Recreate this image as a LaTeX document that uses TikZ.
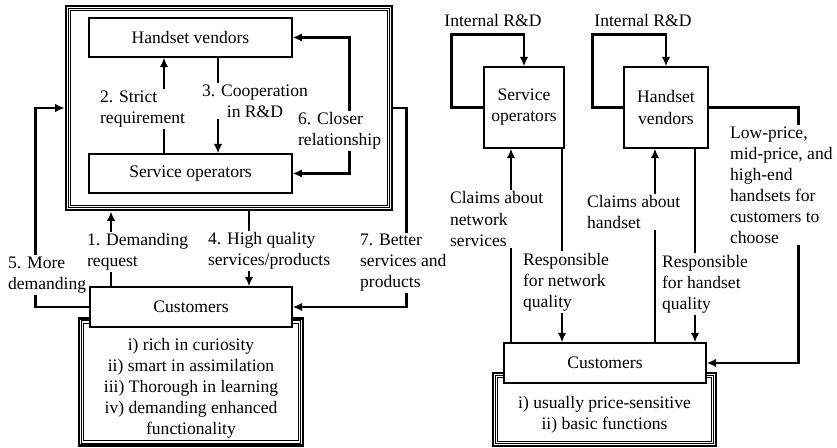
\documentclass[tikz,border=0pt]{standalone}
\usepackage{fontspec}
\setmainfont{Liberation Serif}
\usetikzlibrary{arrows.meta}

\begin{document}
\begin{tikzpicture}[
			x=0.02cm, y=-0.02cm,
			>={Latex[length=5.4pt,width=4.8pt]},
			box/.style = {draw, line width=0.7pt, fill=white, inner sep=0pt, align=center},
			frame/.style = {draw, line width=1.6pt, inner sep=0pt, align=center},
			inner/.style = {draw, line width=0.55pt, double, double distance=0.9pt},
			flow/.style = {line width=1.4pt},
			lbl/.style = {fill=white, inner sep=1pt, align=left, anchor=west}
		]
		\useasboundingbox (0,0) rectangle (837,448);
		% Left: the industry and its customers.
		\node[frame, minimum width=6.52cm, minimum height=4.08cm] (lfr) at (229,108) {};
		\draw[inner] ([shift={(5,5)}]lfr.north west) rectangle ([shift={(-5,-5)}]lfr.south east);
		\node[box, minimum width=4.06cm, minimum height=0.78cm] (hv) at (190.5,37.5) {Handset vendors};
		\node[box, minimum width=4.06cm, minimum height=0.78cm] (so) at (190.5,173.5) {Service operators};
		\node[frame, minimum width=4.48cm, minimum height=2.54cm] (cd) at (191,382) {\\[2pt]i) rich in curiosity\\ii) smart in assimilation\\iii) Thorough in learning\\iv) demanding enhanced\\functionality};
		\draw[inner] ([shift={(5,5)}]cd.north west) rectangle ([shift={(-5,-5)}]cd.south east);
		\node[box, minimum width=4.04cm, minimum height=0.8cm] (cust) at (191,307) {Customers};
		% Right: the industry and its customers.
		\node[box, minimum width=1.6cm, minimum height=1.62cm] (rso) at (524,107.5) {Service\\operators};
		\node[box, minimum width=1.68cm, minimum height=1.62cm] (rhv) at (666,107.5) {Handset\\vendors};
		\node[frame, minimum width=4.46cm, minimum height=1.46cm] (rcd) at (604.5,409.5) {\\[1pt]i) usually price-sensitive\\ii) basic functions};
		\draw[inner] ([shift={(5,5)}]rcd.north west) rectangle ([shift={(-5,-5)}]rcd.south east);
		\node[box, minimum width=4.04cm, minimum height=0.8cm] (rcust) at (605,363) {Customers};
		\node (ird1) at (493,20) {Internal R\&D};
		\node (ird2) at (643,20) {Internal R\&D};
		% Draw the left flows.
		\draw[flow, ->] (so.north -| 164,0) -- (hv.south -| 164,0);
		\draw[flow, ->] (hv.south -| 218,0) -- (so.north -| 218,0);
		\draw[flow, <->] (hv.east) -- ++(57,0) |- (so.east);
		\draw[flow, ->] (cust.north -| 111,0) -- (lfr.south -| 111,0);
		\draw[flow, ->] (lfr.south -| 249,0) -- (cust.north -| 249,0);
		\draw[flow, ->] (cust.west) -- ++(-54,0) |- (lfr.west);
		\draw[flow, ->] (lfr.east) -- ++(13,0) |- (cust.east);
		% Draw the right flows.
		\draw[flow, ->] (rso.west) -- ++(-32,0) -- ++(0,-73) -| (rso.north);
		\draw[flow, ->] (rhv.west) -- ++(-31,0) -- ++(0,-73) -| (rhv.north);
		\draw[flow, ->] (rhv.east) -- ++(90,0) |- (rcust.east);
		\draw[flow, ->] (rcust.north -| 511,0) -- (rso.south -| 511,0);
		\draw[flow, ->] (rso.south -| 562,0) -- (rcust.north -| 562,0);
		\draw[flow, ->] (rcust.north -| 655,0) -- (rhv.south -| 655,0);
		\draw[flow, ->] (rhv.south -| 695,0) -- (rcust.north -| 695,0);
		% Labels on the flows.
		\node[lbl] (l2) at (98,109) {2. Strict\\requirement};
		\node[lbl, anchor=center, align=center] (l3) at (255,101) {3. Cooperation\\in R\&D};
		\node[lbl] (l6) at (296,131) {6. Closer\\relationship};
		\node[lbl] (l1) at (85,252) {1. Demanding\\request};
		\node[lbl] (l4) at (206,251) {4. High quality\\services/products};
		\node[lbl] (l5) at (6,275) {5. More\\demanding};
		\node[lbl] (l7) at (358,263) {7. Better\\services and\\products};
		\node[lbl] (lcn) at (448,219) {Claims about\\network\\services};
		\node[lbl] (lrn) at (521,282) {Responsible\\for network\\quality};
		\node[lbl] (lch) at (585,212) {Claims about\\handset};
		\node[lbl] (lrh) at (660,284) {Responsible\\for handset\\quality};
		\node[lbl] (lpr) at (728,185) {Low-price,\\mid-price, and\\high-end\\handsets for\\customers to\\choose};
	\end{tikzpicture}
\end{document}
